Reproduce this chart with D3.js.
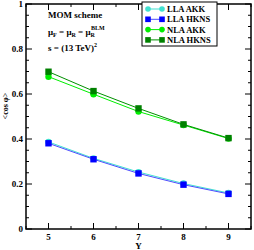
<!DOCTYPE html>
<html>
<head>
<meta charset="utf-8">
<script src="https://cdn.jsdelivr.net/npm/d3@7"></script>
<style>
  body { margin: 0; background: #fff; }
  text { font-family: "Liberation Serif", "DejaVu Serif", serif; font-weight: bold; }
</style>
</head>
<body>
<div id="chart"></div>
<script>
// rapidity values
var rapidity = [5, 6, 7, 8, 9];

// <cos phi> for each calculation
var llaAkk  = [0.387, 0.314, 0.253, 0.202, 0.160];
var llaHkns = [0.381, 0.310, 0.247, 0.197, 0.156];
var nlaAkk  = [0.677, 0.599, 0.522, 0.462, 0.402];
var nlaHkns = [0.699, 0.613, 0.536, 0.465, 0.404];

var seriesNames = ["LLA AKK", "LLA HKNS", "NLA AKK", "NLA HKNS"];
var xTicks = [5, 6, 7, 8, 9];
var yTicks = [0, 0.2, 0.4, 0.6, 0.8, 1];

var width = 254, height = 250;
var margin = {top: 4, right: 3, bottom: 21, left: 26};

var svg = d3.select("#chart").append("svg")
    .attr("width", width)
    .attr("height", height);

var x = d3.scaleLinear().domain([4.5, 9.5]).range([margin.left, width - margin.right]);
var y = d3.scaleLinear().domain([0, 1]).range([height - margin.bottom, margin.top]);

var series = [
    {name: seriesNames[0], values: llaAkk,  line: "#40e0d0", fill: "#40e0d0", shape: "circle"},
    {name: seriesNames[1], values: llaHkns, line: "#4b4bff", fill: "#0000ff", shape: "square"},
    {name: seriesNames[2], values: nlaAkk,  line: "#00ee00", fill: "#00ee00", shape: "circle"},
    {name: seriesNames[3], values: nlaHkns, line: "#009000", fill: "#008000", shape: "square"}
];

// axes with inward ticks, mirrored on all sides
var x0 = margin.left, x1 = width - margin.right;
var y0 = height - margin.bottom, y1 = margin.top;

var xMinor = d3.range(4.5, 9.51, 0.5);
var yMinor = d3.range(0, 1.001, 0.05);

var ticks = svg.append("g").attr("stroke", "#000").attr("stroke-width", 1);
xMinor.forEach(function(v){
    var major = xTicks.indexOf(v) >= 0;
    var len = major ? 6 : 3;
    ticks.append("line").attr("x1", x(v)).attr("x2", x(v)).attr("y1", y0).attr("y2", y0 - len);
    ticks.append("line").attr("x1", x(v)).attr("x2", x(v)).attr("y1", y1).attr("y2", y1 + len);
});
yMinor.forEach(function(v){
    var major = yTicks.some(function(t){ return Math.abs(t - v) < 1e-6; });
    var len = major ? 6 : 3;
    ticks.append("line").attr("x1", x0).attr("x2", x0 + len).attr("y1", y(v)).attr("y2", y(v));
    ticks.append("line").attr("x1", x1).attr("x2", x1 - len).attr("y1", y(v)).attr("y2", y(v));
});

svg.append("rect")
    .attr("x", x0).attr("y", y1)
    .attr("width", x1 - x0).attr("height", y0 - y1)
    .attr("fill", "none").attr("stroke", "#000").attr("stroke-width", 1.5);

svg.selectAll(".xlab").data(xTicks).enter().append("text")
    .attr("x", function(d){ return x(d); })
    .attr("y", y0 + 11)
    .attr("text-anchor", "middle")
    .attr("font-size", 9)
    .text(function(d){ return d; });

svg.selectAll(".ylab").data(yTicks).enter().append("text")
    .attr("x", x0 - 3)
    .attr("y", function(d){ return y(d) + 3; })
    .attr("text-anchor", "end")
    .attr("font-size", 9)
    .text(function(d){ return d === 0 ? "0" : d === 1 ? "1" : d3.format(".1f")(d); });

svg.append("text")
    .attr("x", x(7)).attr("y", height - 1)
    .attr("text-anchor", "middle").attr("font-size", 9)
    .text("Y");

svg.append("text")
    .attr("transform", "translate(8,106) rotate(-90)")
    .attr("text-anchor", "middle").attr("font-size", 8)
    .attr("font-weight", "normal")
    .text("<cos \u03C6>");

// lines and markers
var line = d3.line()
    .x(function(d, i){ return x(rapidity[i]); })
    .y(function(d){ return y(d); });

series.forEach(function(s){
    svg.append("path")
        .attr("d", line(s.values))
        .attr("fill", "none")
        .attr("stroke", s.line)
        .attr("stroke-width", 1);
    var g = svg.append("g");
    s.values.forEach(function(v, i){
        if (s.shape === "circle") {
            g.append("circle").attr("cx", x(rapidity[i])).attr("cy", y(v)).attr("r", 3.2).attr("fill", s.fill);
        } else {
            g.append("rect").attr("x", x(rapidity[i]) - 3.2).attr("y", y(v) - 3.2)
                .attr("width", 6.4).attr("height", 6.4).attr("fill", s.fill);
        }
    });
});

// annotation text
var ann = svg.append("g").attr("font-size", 9);
ann.append("text").attr("x", 48).attr("y", 18).text("MOM scheme");
var t2 = ann.append("text").attr("x", 48).attr("y", 35);
t2.append("tspan").text("\u03BC");
t2.append("tspan").attr("font-size", 6).attr("dy", 2).text("F");
t2.append("tspan").attr("dy", -2).text(" = \u03BC");
t2.append("tspan").attr("font-size", 6).attr("dy", 2).text("R");
t2.append("tspan").attr("dy", -2).text(" = \u03BC");
t2.append("tspan").attr("font-size", 6).attr("dy", 2).text("R");
t2.append("tspan").attr("font-size", 6).attr("dx", -4).attr("dy", -7).text("BLM");
var t3 = ann.append("text").attr("x", 48).attr("y", 51);
t3.append("tspan").text("s = (13 TeV)");
t3.append("tspan").attr("font-size", 6).attr("dy", -4).text("2");

// legend
var legend = svg.append("g");
legend.append("rect")
    .attr("x", 142).attr("y", 2).attr("width", 75).attr("height", 44)
    .attr("fill", "#fff").attr("stroke", "#000").attr("stroke-width", 1);
series.forEach(function(s, i){
    var ly = 9 + i * 10.3;
    legend.append("line").attr("x1", 148).attr("x2", 162).attr("y1", ly).attr("y2", ly)
        .attr("stroke", s.line).attr("stroke-width", 1);
    [148, 162].forEach(function(lx){
        if (s.shape === "circle") {
            legend.append("circle").attr("cx", lx).attr("cy", ly).attr("r", 2.8).attr("fill", s.fill);
        } else {
            legend.append("rect").attr("x", lx - 2.8).attr("y", ly - 2.8).attr("width", 5.6).attr("height", 5.6).attr("fill", s.fill);
        }
    });
    legend.append("text").attr("x", 167).attr("y", ly + 3).attr("font-size", 8.5).text(s.name);
});
</script>
</body>
</html>
